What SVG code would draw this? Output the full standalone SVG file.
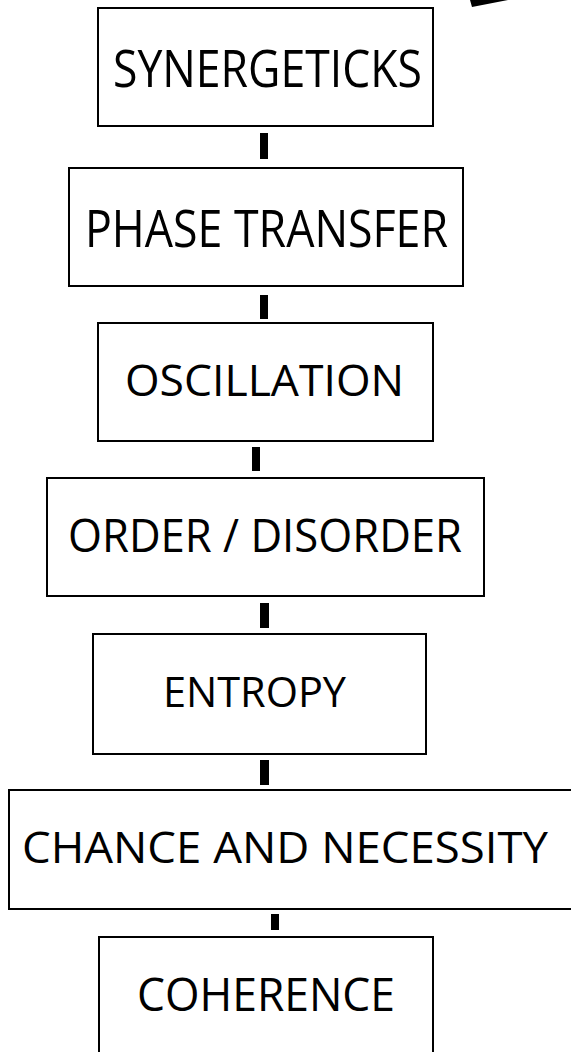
<svg xmlns="http://www.w3.org/2000/svg" width="571" height="1052" viewBox="0 0 571 1052">
  <style>
    .box { fill: #ffffff; stroke: #000000; stroke-width: 2; }
    .lbl { font-family: "Open Sans", "Liberation Sans", sans-serif; fill: #000000; }
    .conn { fill: #000000; }
  </style>
  <rect x="0" y="0" width="571" height="1052" fill="#ffffff"/>
  <polygon points="470,0 472,7 508,0" fill="#000000"/>
  <g id="connectors">
    <rect class="conn" x="260" y="133" width="8" height="26"/>
    <rect class="conn" x="260" y="295" width="8" height="24"/>
    <rect class="conn" x="252" y="447" width="8" height="24"/>
    <rect class="conn" x="260" y="603" width="9" height="25"/>
    <rect class="conn" x="260" y="760" width="9" height="25"/>
    <rect class="conn" x="271" y="914" width="8" height="16"/>
  </g>
  <g id="n1">
    <rect class="box" x="98" y="8" width="335" height="118"/>
    <text class="lbl" x="113" y="87" font-size="52" textLength="309" lengthAdjust="spacingAndGlyphs">SYNERGETICKS</text>
  </g>
  <g id="n2">
    <rect class="box" x="69" y="168" width="394" height="118"/>
    <text class="lbl" x="85" y="247" font-size="52" textLength="363" lengthAdjust="spacingAndGlyphs">PHASE TRANSFER</text>
  </g>
  <g id="n3">
    <rect class="box" x="98" y="323" width="335" height="118"/>
    <text class="lbl" x="125" y="396" font-size="43.5" textLength="279" lengthAdjust="spacingAndGlyphs">OSCILLATION</text>
  </g>
  <g id="n4">
    <rect class="box" x="47" y="478" width="437" height="118"/>
    <text class="lbl" x="68" y="552" font-size="46" textLength="394" lengthAdjust="spacingAndGlyphs">ORDER / DISORDER</text>
  </g>
  <g id="n5">
    <rect class="box" x="93" y="634" width="333" height="120"/>
    <text class="lbl" x="163" y="707" font-size="42" textLength="183" lengthAdjust="spacingAndGlyphs">ENTROPY</text>
  </g>
  <g id="n6">
    <rect class="box" x="9" y="790" width="580" height="119"/>
    <text class="lbl" x="22" y="863" font-size="43.5" textLength="526" lengthAdjust="spacingAndGlyphs">CHANCE AND NECESSITY</text>
  </g>
  <g id="n7">
    <rect class="box" x="99" y="937" width="334" height="130"/>
    <text class="lbl" x="137" y="1011" font-size="46" textLength="258" lengthAdjust="spacingAndGlyphs">COHERENCE</text>
  </g>
</svg>
